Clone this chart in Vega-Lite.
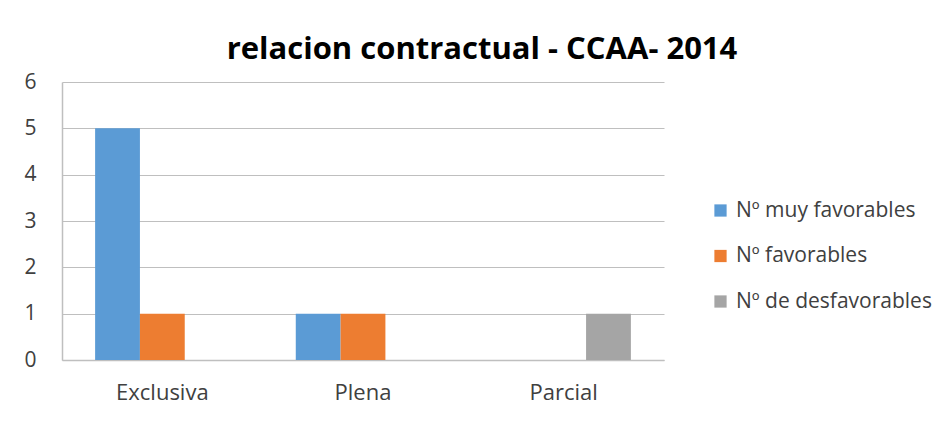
{
  "$schema": "https://vega.github.io/schema/vega-lite/v6.json",
  "width": 602,
  "height": 278,
  "autosize": {"type": "none"},
  "padding": {"left": 62, "top": 82, "right": 285, "bottom": 74},
  "background": "white",
  "title": {
    "text": "relacion contractual - CCAA- 2014",
    "font": "Open Sans",
    "fontSize": 31,
    "fontWeight": "bold",
    "color": "#000000",
    "anchor": "middle",
    "frame": "group",
    "dx": 119,
    "offset": 5
  },
  "data": {
    "values": [
      {"categoria": "Exclusiva", "serie": "Nº muy favorables", "valor": 5},
      {"categoria": "Exclusiva", "serie": "Nº favorables", "valor": 1},
      {"categoria": "Exclusiva", "serie": "Nº de desfavorables", "valor": 0},
      {"categoria": "Plena", "serie": "Nº muy favorables", "valor": 1},
      {"categoria": "Plena", "serie": "Nº favorables", "valor": 1},
      {"categoria": "Plena", "serie": "Nº de desfavorables", "valor": 0},
      {"categoria": "Parcial", "serie": "Nº muy favorables", "valor": 0},
      {"categoria": "Parcial", "serie": "Nº favorables", "valor": 0},
      {"categoria": "Parcial", "serie": "Nº de desfavorables", "valor": 1}
    ]
  },
  "mark": {"type": "bar"},
  "encoding": {
    "x": {
      "field": "categoria",
      "type": "nominal",
      "sort": ["Exclusiva", "Plena", "Parcial"],
      "scale": {"paddingInner": 0.33, "paddingOuter": 0.165},
      "axis": {
        "title": null,
        "labelAngle": 0,
        "labelFont": "Open Sans",
        "labelFontSize": 22,
        "labelColor": "#404040",
        "labelPadding": 22,
        "ticks": false,
        "domainColor": "#bfbfbf",
        "domainWidth": 1.5
      }
    },
    "xOffset": {
      "field": "serie",
      "type": "nominal",
      "sort": ["Nº muy favorables", "Nº favorables", "Nº de desfavorables"],
      "scale": {"paddingInner": 0, "paddingOuter": 0}
    },
    "y": {
      "field": "valor",
      "type": "quantitative",
      "scale": {"domain": [0, 6], "nice": false},
      "axis": {
        "title": null,
        "values": [0, 1, 2, 3, 4, 5, 6],
        "labelFont": "Open Sans",
        "labelFontSize": 21,
        "labelColor": "#404040",
        "labelPadding": 26,
        "ticks": false,
        "domainColor": "#bfbfbf",
        "domainWidth": 1.5,
        "gridColor": "#bfbfbf",
        "gridWidth": 1.2
      }
    },
    "color": {
      "field": "serie",
      "type": "nominal",
      "sort": ["Nº muy favorables", "Nº favorables", "Nº de desfavorables"],
      "scale": {
        "domain": ["Nº muy favorables", "Nº favorables", "Nº de desfavorables"],
        "range": ["#5B9BD5", "#ED7D31", "#A5A5A5"]
      },
      "legend": {
        "title": null,
        "orient": "none",
        "legendX": 648,
        "legendY": 118,
        "symbolType": "square",
        "symbolSize": 150,
        "symbolStrokeWidth": 0,
        "labelFont": "Open Sans",
        "labelFontSize": 21,
        "labelColor": "#404040",
        "labelOffset": 5,
        "labelLimit": 300,
        "rowPadding": 23.5
      }
    }
  },
  "config": {
    "view": {"stroke": null}
  }
}
